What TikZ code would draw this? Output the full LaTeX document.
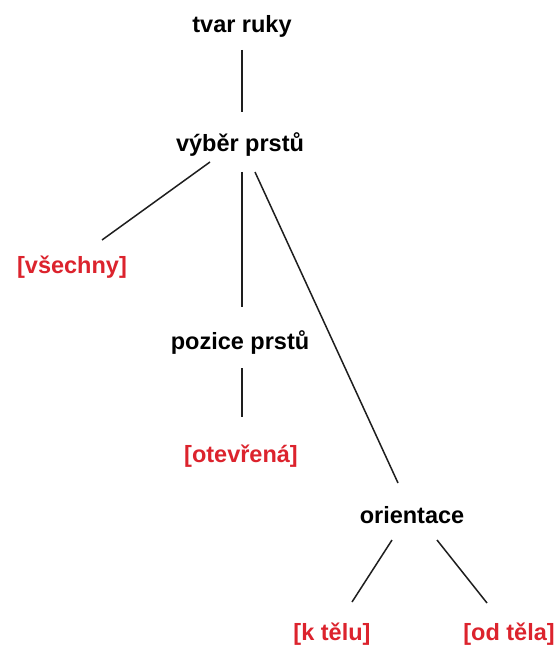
\documentclass[tikz,border=0pt]{standalone}
\usepackage{fontspec}
\setmainfont{Liberation Sans}
\usetikzlibrary{calc}
\definecolor{lblred}{RGB}{220,35,45}
\definecolor{linegray}{RGB}{30,30,30}
\begin{document}
\begin{tikzpicture}[x=1pt,y=1pt,
  lbl/.style={anchor=base,inner sep=0pt,font=\fontsize{23.5}{28}\selectfont\bfseries,text=black},
  val/.style={lbl,text=lblred},
  conn/.style={draw=linegray,line width=1.5pt}]
\useasboundingbox[fill=white] (0,0) rectangle (557,-647);
\node[lbl] (tvar) at (242,-33) {tvar ruky};
\node[lbl] (vyber) at (240,-152) {výběr prstů};
\node[val] (vsechny) at (72,-273) {[všechny]};
\node[lbl] (pozice) at (240,-349) {pozice prstů};
\node[val] (otevrena) at (241,-462) {[otevřená]};
\node[lbl] (orient) at (412,-523) {orientace};
\node[val] (ktelu) at (332,-640) {[k tělu]};
\node[val] (odtela) at (509,-640) {[od těla]};
\draw[conn] ($(tvar.base)+(0,-17)$) -- ($(vyber.base)+(2,40)$);
\draw[conn] ($(vyber.base)+(-30,-10)$) -- ($(vsechny.base)+(30,33)$);
\draw[conn] ($(vyber.base)+(2,-20)$) -- ($(pozice.base)+(2,42)$);
\draw[conn] ($(vyber.base)+(15,-20)$) -- ($(orient.base)+(-14,40)$);
\draw[conn] ($(pozice.base)+(2,-19)$) -- ($(otevrena.base)+(1,45)$);
\draw[conn] ($(orient.base)+(-20,-17)$) -- ($(ktelu.base)+(20,38)$);
\draw[conn] ($(orient.base)+(25,-17)$) -- ($(odtela.base)+(-22,37)$);
\end{tikzpicture}
\end{document}
